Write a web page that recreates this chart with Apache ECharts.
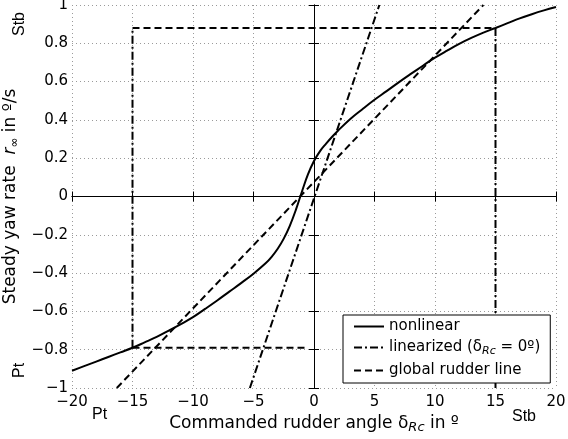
<!DOCTYPE html>
<html><head><meta charset="utf-8">
<script src="https://cdn.jsdelivr.net/npm/echarts@6/dist/echarts.min.js"></script>
<style>html,body{margin:0;padding:0;background:#fff}#c{width:568px;height:439px}</style>
</head><body><div id="c"></div>
<script>
// ---- data ----
const xNonlinear = [-20, -19, -18, -17, -16, -15, -14, -13, -12, -11, -10, -9, -8, -7, -6, -5, -4, -3.5, -3, -2.5, -2, -1.5, -1, -0.5, 0, 0.5, 1, 1.5, 2, 3, 4, 5, 6, 7, 8, 9, 10, 11, 12, 13, 14, 15, 16, 17, 18, 19, 20];
const yNonlinear = [-0.91, -0.886, -0.862, -0.838, -0.814, -0.79, -0.762, -0.733, -0.70, -0.666, -0.63, -0.587, -0.543, -0.497, -0.451, -0.403, -0.349, -0.315, -0.273, -0.22, -0.153, -0.07, 0.025, 0.115, 0.185, 0.237, 0.276, 0.312, 0.345, 0.405, 0.456, 0.505, 0.55, 0.596, 0.64, 0.683, 0.725, 0.762, 0.797, 0.828, 0.856, 0.88, 0.905, 0.93, 0.952, 0.972, 0.99];
const xLinearized = [-5.3, 5.4];
const yLinearized = [-1, 1];
const xGlobal = [-16.3, 14.0];
const yGlobal = [-1, 1];
const xRectVert = [-15, 15];          // rudder limits
const yRectTop = 0.88;
const yRectBottomLeft = -0.79;
const yRectBottomRight = -1;
const xRectBottomEnd = -0.6;
const xTicks = [-20, -15, -10, -5, 0, 5, 10, 15, 20];
const yTicks = [-1, -0.8, -0.6, -0.4, -0.2, 0, 0.2, 0.4, 0.6, 0.8, 1];
const legendNames = ['nonlinear', 'linearized', 'global rudder line'];

const fmt = v => { const r = Math.round(v * 10) / 10; return r < 0 ? '\u2212' + Math.abs(r) : String(r); };
const zip = (xs, ys) => xs.map((x, i) => [x, ys[i]]);

const FONT = '"DejaVu Sans", Arial, sans-serif';
const FONT2 = '"Liberation Sans", Arial, sans-serif';
const chart = echarts.init(document.getElementById('c'), null, {renderer: 'canvas'});

const dashed = [7, 4];
const dashDot = [8, 3, 2, 3];

chart.setOption({
  animation: false,
  backgroundColor: '#fff',
  textStyle: {fontFamily: FONT, color: '#000'},
  grid: {left: 72, right: 12, top: 5, bottom: 51, containLabel: false, outerBoundsMode: 'none'},
  xAxis: [{
    type: 'value', min: xTicks[0], max: xTicks[xTicks.length - 1], interval: 5,
    axisLine: {lineStyle: {color: '#000', width: 1}},
    axisTick: {inside: true, length: 5, lineStyle: {color: '#000'}},
    axisLabel: {color: '#000', fontSize: 15, fontFamily: FONT, margin: 7, formatter: fmt},
    splitLine: {show: true, lineStyle: {color: '#9a9a9a', type: [1, 3], width: 1}},
    name: 'Commanded rudder angle \u03b4{sub|Rc} in \u00ba',
    nameLocation: 'middle', nameGap: 18,
    nameTextStyle: {color: '#000', fontSize: 17, fontFamily: FONT,
      rich: {sub: {fontSize: 13, fontStyle: 'italic', verticalAlign: 'bottom', padding: [9, 0, 0, 0], fontFamily: FONT}}}
  }, {
    type: 'value', position: 'top', min: -20, max: 20, interval: 5,
    axisLine: {show: true, lineStyle: {color: '#000'}},
    axisTick: {show: true, inside: true, length: 5, lineStyle: {color: '#000'}},
    axisLabel: {show: false}, splitLine: {show: false}
  }],
  yAxis: [{
    type: 'value', min: yTicks[0], max: yTicks[yTicks.length - 1], interval: 0.2,
    axisLine: {show: true, lineStyle: {color: '#000', width: 1}},
    axisTick: {show: true, inside: true, length: 5, lineStyle: {color: '#000'}},
    axisLabel: {color: '#000', fontSize: 15, fontFamily: FONT, margin: 4, formatter: fmt},
    splitLine: {show: true, lineStyle: {color: '#9a9a9a', type: [1, 3], width: 1}},
    name: 'Steady yaw rate  {it|r}{sub|\u221e} in \u00ba/s',
    nameLocation: 'middle', nameGap: 46, nameRotate: 90,
    nameTextStyle: {color: '#000', fontSize: 17, fontFamily: FONT,
      rich: {it: {fontSize: 17, fontStyle: 'italic', fontFamily: FONT},
             sub: {fontSize: 12, verticalAlign: 'bottom', padding: [8, 0, 0, 0], fontFamily: FONT}}}
  }, {
    type: 'value', position: 'right', min: -1, max: 1, interval: 0.2,
    axisLine: {show: true, lineStyle: {color: '#000'}},
    axisTick: {show: true, inside: true, length: 5, lineStyle: {color: '#000'}},
    axisLabel: {show: false}, splitLine: {show: false}
  }],
  legend: {
    data: legendNames,
    orient: 'vertical', left: 343, top: 315,
    padding: [4, 10, 5, 10],
    itemGap: 6, itemWidth: 30, itemHeight: 14,
    itemStyle: {opacity: 0},
    backgroundColor: '#fff', borderColor: '#000', borderWidth: 1, borderRadius: 0,
    z: 20,
    textStyle: {color: '#000', fontSize: 15, fontFamily: FONT,
      rich: {sub: {fontSize: 11, fontStyle: 'italic', verticalAlign: 'bottom', padding: [8, 0, 0, 0], fontFamily: FONT}}},
    formatter: n => n === 'linearized' ? 'linearized (\u03b4{sub|Rc} = 0\u00ba)' : n
  },
  series: [
    {name: 'nonlinear', type: 'line', data: zip(xNonlinear, yNonlinear), showSymbol: false, symbol: 'none',
     smooth: 0.4, lineStyle: {color: '#000', width: 2, type: 'solid'}, itemStyle: {color: '#000'}, z: 5},
    {name: 'linearized', type: 'line', data: zip(xLinearized, yLinearized), showSymbol: false, symbol: 'none',
     lineStyle: {color: '#000', width: 2, type: dashDot}, itemStyle: {color: '#000'}, z: 4},
    {name: 'global rudder line', type: 'line', data: zip(xGlobal, yGlobal), showSymbol: false, symbol: 'none',
     lineStyle: {color: '#000', width: 2, type: dashed}, itemStyle: {color: '#000'}, z: 4},
    {name: 'rectTop', type: 'line', data: [[xRectVert[0], yRectTop], [xRectVert[1], yRectTop]], showSymbol: false, symbol: 'none',
     lineStyle: {color: '#000', width: 2, type: dashed}, z: 3},
    {name: 'rectLeft', type: 'line', data: [[xRectVert[0], yRectBottomLeft], [xRectVert[0], yRectTop]], showSymbol: false, symbol: 'none',
     lineStyle: {color: '#000', width: 2, type: dashDot}, z: 3},
    {name: 'rectRight', type: 'line', data: [[xRectVert[1], yRectTop], [xRectVert[1], yRectBottomRight]], showSymbol: false, symbol: 'none',
     lineStyle: {color: '#000', width: 2, type: dashDot}, z: 3},
    {name: 'rectBottom', type: 'line', data: [[xRectVert[0], yRectBottomLeft], [xRectBottomEnd, yRectBottomLeft]], showSymbol: false, symbol: 'none',
     lineStyle: {color: '#000', width: 2, type: dashed}, z: 3}
  ],
  graphic: [
    {type: 'text', left: 92, top: 407, style: {text: 'Pt', font: '16px ' + FONT2, fill: '#000'}},
    {type: 'text', left: 512, top: 409, style: {text: 'Stb', font: '16px ' + FONT2, fill: '#000'}},
    {type: 'text', x: 12, y: 36, rotation: Math.PI / 2, style: {text: 'Stb', font: '16px ' + FONT2, fill: '#000'}},
    {type: 'text', x: 12, y: 378, rotation: Math.PI / 2, style: {text: 'Pt', font: '16px ' + FONT2, fill: '#000'}}
  ]
});
</script>
</body></html>
